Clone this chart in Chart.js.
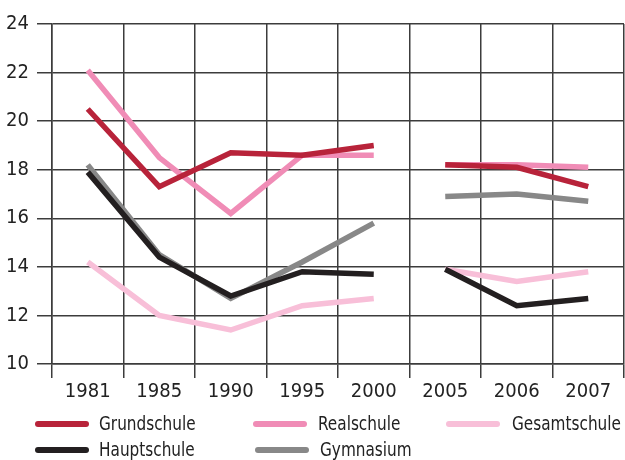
<!DOCTYPE html>
<html>
<head>
<meta charset="utf-8">
<script src="https://cdn.jsdelivr.net/npm/chart.js@4/dist/chart.umd.min.js"></script>
<style>
  body { margin: 0; background: #fff; }
  canvas { display: block; }
</style>
</head>
<body>
<canvas id="chart" width="625" height="460"></canvas>
<script>
// Data
const years = ["1981", "1985", "1990", "1995", "2000", "2005", "2006", "2007"];
const grundschule  = [20.5, 17.3, 18.7, 18.6, 19.0, 18.2, 18.1, 17.3];
const realschule   = [22.1, 18.5, 16.2, 18.6, 18.6, 18.2, 18.2, 18.1];
const gesamtschule = [14.2, 12.0, 11.4, 12.4, 12.7, 13.9, 13.4, 13.8];
const hauptschule  = [17.9, 14.4, 12.8, 13.8, 13.7, 13.9, 12.4, 12.7];
const gymnasium    = [18.2, 14.5, 12.7, 14.2, 15.8, 16.9, 17.0, 16.7];
const yTicks = [10, 12, 14, 16, 18, 20, 22, 24];

const FONT = "'Liberation Sans Narrow', 'DejaVu Sans Condensed', sans-serif";
Chart.defaults.font.family = FONT;
Chart.defaults.color = "#222";

// no segment between 2000 and 2005
const gapAfter = years.indexOf("2000");

function series(label, data, color, order) {
  return {
    label: label,
    data: data,
    borderColor: color,
    backgroundColor: color,
    borderWidth: 5.5,
    pointRadius: 0,
    tension: 0,
    order: order,
    segment: {
      borderColor: ctx => ctx.p0DataIndex === gapAfter ? "rgba(0,0,0,0)" : undefined
    }
  };
}

// legend in two rows, fixed columns like the original
const legendPlugin = {
  id: "gridLegend",
  afterDraw(chart) {
    const c = chart.ctx;
    const cols = [[35, 99], [253, 318], [446, 512]];
    const slots = [
      { i: 0, col: 0, y: 424 },
      { i: 1, col: 1, y: 424 },
      { i: 2, col: 2, y: 424 },
      { i: 3, col: 0, y: 450 },
      { i: 4, col: 1, y: 450 }
    ];
    c.save();
    slots.forEach(s => {
      const ds = chart.data.datasets[s.i];
      const shift = s.i === 4 ? 2 : 0;
      const x0 = cols[s.col][0] + shift;
      c.strokeStyle = ds.borderColor;
      c.lineWidth = 6;
      c.lineCap = "round";
      c.beginPath();
      c.moveTo(x0 + 3, s.y);
      c.lineTo(x0 + 51, s.y);
      c.stroke();
      // condensed text, the original uses a narrow face
      c.save();
      c.translate(cols[s.col][1] + shift, s.y + 1);
      c.scale(0.85, 1);
      c.fillStyle = "#222";
      c.font = "20px " + FONT;
      c.textBaseline = "middle";
      c.fillText(ds.label, 0, 0);
      c.restore();
    });
    c.restore();
  }
};

new Chart(document.getElementById("chart"), {
  type: "line",
  data: {
    labels: years,
    datasets: [
      series("Grundschule", grundschule, "#b8233a", 2),
      series("Realschule", realschule, "#f08cb6", 4),
      series("Gesamtschule", gesamtschule, "#f8bfd8", 5),
      series("Hauptschule", hauptschule, "#231f20", 1),
      series("Gymnasium", gymnasium, "#888888", 3)
    ]
  },
  options: {
    responsive: false,
    animation: false,
    layout: { padding: { top: 24, right: 1, bottom: 60, left: 0 } },
    plugins: {
      legend: { display: false },
      tooltip: { enabled: false }
    },
    scales: {
      x: {
        offset: true,
        grid: { offset: true, color: "#3c3c3c", lineWidth: 1.5, tickLength: 14 },
        border: { color: "#3c3c3c", width: 1.5 },
        ticks: { font: { size: 20 }, padding: 2, maxRotation: 0 },
        afterFit: s => { s.height = 36; }
      },
      y: {
        min: 10,
        max: 24,
        afterBuildTicks: s => { s.ticks = yTicks.map(v => ({ value: v })); },
        grid: { color: "#3c3c3c", lineWidth: 1.5, tickLength: 15 },
        border: { color: "#3c3c3c", width: 1.5 },
        ticks: { font: { size: 20 }, padding: 8 },
        afterFit: s => { s.width = 52; }
      }
    }
  },
  plugins: [legendPlugin]
});
</script>
</body>
</html>
